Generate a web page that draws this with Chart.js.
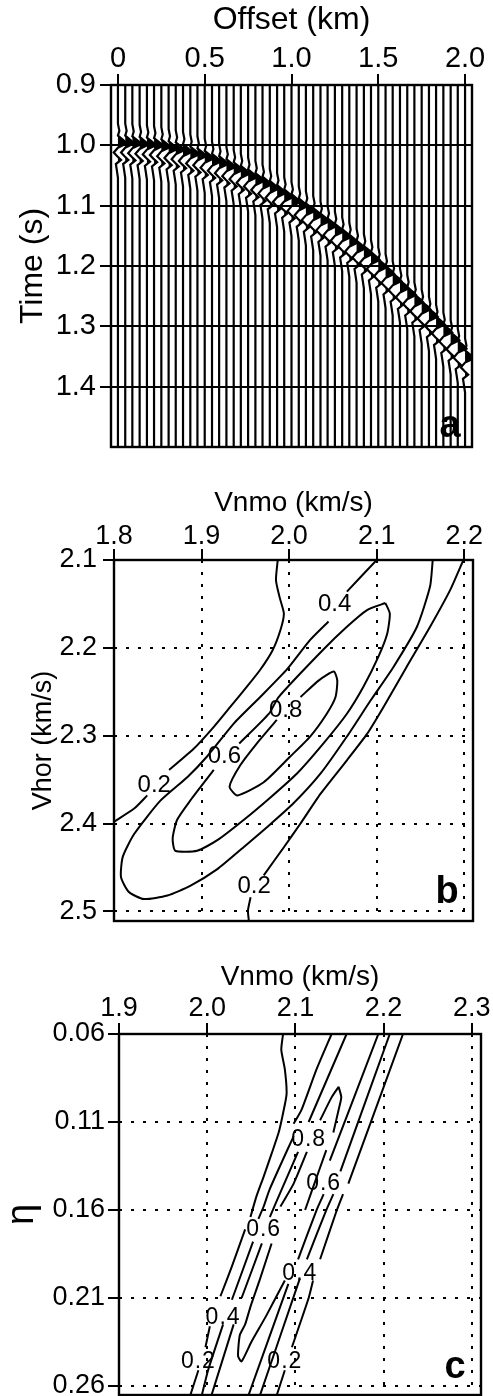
<!DOCTYPE html>
<html>
<head>
<meta charset="utf-8">
<title>Offset gather and semblance panels</title>
<script src="https://cdn.jsdelivr.net/npm/chart.js@4/dist/chart.umd.js"></script>
<style>
  html, body { margin: 0; padding: 0; background: #fff; }
  body { position: relative; width: 493px; height: 1396px; overflow: hidden; }
  canvas { position: absolute; left: 0; }
  #panelA { top: 0; }
  #panelB { top: 480px; }
  #panelC { top: 960px; }
</style>
</head>
<body>
<canvas id="panelA" width="493" height="470"></canvas>
<canvas id="panelB" width="493" height="460"></canvas>
<canvas id="panelC" width="493" height="436"></canvas>

<script>
// panel a: tick values and labels
const offsetTicks = [0, 0.5, 1.0, 1.5, 2.0];
const offsetTickLabels = ['0', '0.5', '1.0', '1.5', '2.0'];
const timeTicks = [0.9, 1.0, 1.1, 1.2, 1.3, 1.4];
const timeTickLabels = ['0.9', '1.0', '1.1', '1.2', '1.3', '1.4'];

// panel a: one wiggle trace per offset, with the event arrival
const traceOffsets = [
    0, 0.042, 0.083, 0.125, 0.167, 0.208, 0.25, 0.292, 0.333, 0.375, 0.417, 0.458,
    0.5, 0.542, 0.583, 0.625, 0.667, 0.708, 0.75, 0.792, 0.833, 0.875, 0.917, 0.958,
    1.0, 1.042, 1.083, 1.125, 1.167, 1.208, 1.25, 1.292, 1.333, 1.375, 1.417, 1.458,
    1.5, 1.542, 1.583, 1.625, 1.667, 1.708, 1.75, 1.792, 1.833, 1.875, 1.917, 1.958, 2.0
];
const traceArrivals = [
    1.000, 1.000, 1.001, 1.002, 1.003, 1.004, 1.006, 1.009, 1.011, 1.014, 1.018, 1.021,
    1.025, 1.030, 1.034, 1.039, 1.044, 1.050, 1.056, 1.062, 1.068, 1.075, 1.082, 1.089,
    1.097, 1.104, 1.112, 1.120, 1.129, 1.137, 1.146, 1.155, 1.164, 1.174, 1.183, 1.193,
    1.205, 1.216, 1.228, 1.240, 1.251, 1.263, 1.275, 1.287, 1.300, 1.313, 1.326, 1.340, 1.356
];
// wavelet as seen on a single trace: time from arrival (s), deflection (km)
const waveTimes = [-0.036, -0.024, -0.016, -0.008, -0.003, 0.004, 0.012, 0.018, 0.024, 0.031, 0.042, 0.054];
const waveAmps = [0, 0.008, 0, 0.034, 0.050, 0, -0.024, -0.004, 0.018, -0.012, -0.006, 0];
// the filled (black) parts of the wavelet
const lobeTimes = [-0.016, -0.008, -0.003, 0.004];
const lobeAmps = [0, 0.034, 0.050, 0];
const lowerLobeTimes = [0.018, 0.024, 0.029];
const lowerLobeAmps = [0, 0.018, 0];

// panel b: ticks
const vnmoTicksB = [1.8, 1.9, 2.0, 2.1, 2.2];
const vhorTicks = [2.1, 2.2, 2.3, 2.4, 2.5];

// panel b: contours as [Vnmo, Vhor], null = gap left for a label
const contourB02Left = [[1.987,2.1],[1.985,2.123],[1.989,2.142],[1.994,2.161],[1.990,2.180],[1.981,2.203],[1.967,2.225],[1.952,2.244],[1.933,2.267],[1.914,2.290],[1.891,2.315],[1.863,2.339],null,[1.838,2.368],[1.823,2.383],[1.800,2.398]];
const contourB02Right = [[2.199,2.1],[2.184,2.134],[2.161,2.176],[2.134,2.222],[2.108,2.267],[2.089,2.298],[2.066,2.328],[2.036,2.366],[2.013,2.400],[1.994,2.427],[1.971,2.459],null,[1.956,2.484],[1.953,2.499],[1.954,2.511]];
const contourB04 = [[2.100,2.1],[2.066,2.136],null,[2.045,2.170],[2.024,2.191],[1.998,2.224],[1.967,2.256],[1.937,2.286],[1.906,2.324],[1.884,2.347],[1.853,2.374],[1.823,2.412],[1.810,2.438],[1.808,2.461],[1.817,2.478],[1.834,2.486],[1.861,2.482],[1.887,2.471],[1.918,2.452],[1.948,2.427],[1.975,2.404],[2.005,2.377],[2.036,2.343],[2.066,2.301],[2.093,2.260],[2.119,2.222],[2.146,2.176],[2.161,2.130],[2.164,2.1]];
const contourB06 = [[2.110,2.149],[2.115,2.161],[2.112,2.184],[2.102,2.210],[2.085,2.244],[2.066,2.275],[2.039,2.309],[2.009,2.343],[1.979,2.370],[1.948,2.396],[1.918,2.419],[1.895,2.431],[1.870,2.431],[1.867,2.417],[1.872,2.396],[1.887,2.374],[1.914,2.339],null,[1.943,2.309],[1.977,2.275],[1.988,2.256],[2.038,2.203],[2.066,2.176],[2.089,2.157],[2.110,2.149]];
const contourB08 = [[1.986,2.282],[1.963,2.309],[1.944,2.334],[1.932,2.358],[1.941,2.368],[1.971,2.353],[2.001,2.324],[2.024,2.301],[2.043,2.275],[2.053,2.256],[2.055,2.237],[2.051,2.227],[2.034,2.237],[2.013,2.256]];
const contoursB = [contourB02Left, contourB02Right, contourB04, contourB06, contourB08];
const labelTextB = ['0.4', '0.2', '0.6', '0.8', '0.2'];
const labelVnmoB = [2.052, 1.846, 1.926, 1.996, 1.960];
const labelVhorB = [2.151, 2.357, 2.324, 2.271, 2.472];

// panel c: ticks
const vnmoTicksC = [1.9, 2.0, 2.1, 2.2, 2.3];
const etaTicks = [0.06, 0.11, 0.16, 0.21, 0.26];

// panel c: contours as [Vnmo, eta]
const contourC02Left = [[2.086,0.06],[2.084,0.069],[2.088,0.080],[2.090,0.094],[2.086,0.105],[2.081,0.116],[2.073,0.128],[2.064,0.141],[2.056,0.152],[2.049,0.164],null,[2.043,0.171],[2.028,0.192],[2.015,0.209],null,[2.003,0.226],[1.998,0.238],null,[1.990,0.251],[1.981,0.265]];
const contourC04Left = [[2.141,0.06],[2.124,0.080],[2.107,0.103],[2.098,0.111],null,[2.098,0.118],[2.071,0.148],[2.064,0.158],[2.058,0.165],null,[2.052,0.178],[2.028,0.211],null,[2.018,0.225],[2.001,0.251],[1.994,0.265]];
const contourC06Left = [[2.158,0.06],[2.115,0.110],null,[2.103,0.127],[2.083,0.150],[2.071,0.164],null,[2.062,0.179],[2.039,0.210],null,[2.030,0.225],[2.005,0.265]];
const contourC08 = [[2.149,0.090],[2.141,0.096],[2.128,0.109],null,[2.113,0.127],[2.098,0.145],[2.083,0.158],null,[2.073,0.179],[2.060,0.199],[2.049,0.215],[2.043,0.225],[2.037,0.231],[2.035,0.243],[2.039,0.246],[2.050,0.235],[2.067,0.220],[2.088,0.200],null,[2.111,0.160],[2.118,0.150],[2.135,0.126],null,[2.143,0.116],[2.149,0.103],[2.152,0.096],[2.149,0.090]];
const contourC06Right = [[2.194,0.06],[2.139,0.132],null,[2.132,0.151],[2.124,0.160],[2.103,0.188],null,[2.092,0.202],[2.047,0.265]];
const contourC04Right = [[2.207,0.06],[2.151,0.138],null,[2.143,0.151],[2.135,0.160],[2.113,0.188],null,[2.105,0.199],[2.060,0.265]];
const contourC02Right = [[2.222,0.06],[2.160,0.145],null,[2.154,0.151],[2.147,0.160],[2.128,0.188],null,[2.120,0.200],[2.115,0.210],[2.096,0.238],null,[2.088,0.251],[2.079,0.265]];
const contoursC = [contourC02Left, contourC04Left, contourC06Left, contourC08, contourC06Right, contourC04Right, contourC02Right];
const labelTextC = ['0.8', '0.6', '0.6', '0.4', '0.4', '0.2', '0.2'];
const labelVnmoC = [2.115, 2.132, 2.064, 2.105, 2.018, 1.990, 2.088];
const labelEtaC = [0.120, 0.145, 0.171, 0.196, 0.221, 0.246, 0.246];

const FONT = '"Liberation Sans", Arial, sans-serif';
Chart.defaults.font.family = FONT;
Chart.defaults.color = '#000';

// ticks come from the lists above, the axis size is forced so the plot boxes land where they should
function eixo(opts) {
    return {
        type: 'linear',
        position: opts.position,
        reverse: !!opts.reverse,
        min: opts.min,
        max: opts.max,
        title: {
            display: true,
            text: opts.title,
            color: '#000',
            font: { size: opts.titleSize, family: opts.titleFamily || FONT },
            padding: opts.titlePadding
        },
        ticks: {
            autoSkip: false,
            maxRotation: 0,
            minRotation: 0,
            color: '#000',
            padding: opts.tickPadding,
            font: { size: opts.tickSize },
            callback: (value, i) => opts.labels ? opts.labels[i] : opts.ticks[i].toFixed(opts.decimals)
        },
        grid: {
            display: true,
            color: '#000',
            lineWidth: 2,
            tickLength: 11,
            tickColor: '#000',
            tickWidth: 2,
            drawOnChartArea: opts.gridLines
        },
        border: { display: false, dash: opts.dash || [] },
        afterBuildTicks: scale => { scale.ticks = opts.ticks.map(v => ({ value: v })); },
        afterFit: scale => {
            if (opts.position === 'top') scale.height = opts.size;
            else scale.width = opts.size;
            scale.paddingLeft = scale.paddingRight = scale.paddingTop = scale.paddingBottom = 0;
        }
    };
}

// plot frame, contour labels and the panel letter
function decoracao(letter, letterRight, letterBottom, texts, xs, ys, labelSize, spacing) {
    return {
        id: 'decoracao',
        afterDatasetsDraw(chart) {
            const ctx = chart.ctx;
            const area = chart.chartArea;
            ctx.save();
            ctx.strokeStyle = '#000';
            ctx.lineWidth = 2.4;
            ctx.strokeRect(area.left, area.top, area.right - area.left, area.bottom - area.top);
            ctx.fillStyle = '#000';
            ctx.textAlign = 'center';
            ctx.textBaseline = 'middle';
            ctx.font = `${labelSize}px ${FONT}`;
            ctx.letterSpacing = spacing;
            texts.forEach((t, i) => {
                ctx.fillText(t, chart.scales.x.getPixelForValue(xs[i]), chart.scales.y.getPixelForValue(ys[i]));
            });
            ctx.letterSpacing = '0px';
            ctx.font = `bold 38px ${FONT}`;
            ctx.textBaseline = 'alphabetic';
            ctx.fillText(letter, area.right - letterRight, area.bottom - letterBottom);
            ctx.restore();
        }
    };
}

function linhaContorno(pontos) {
    return {
        data: pontos.map(p => p ? { x: p[0], y: p[1] } : { x: null, y: null }),
        showLine: true,
        borderColor: '#000',
        borderWidth: 2,
        pointRadius: 0,
        tension: 0.2,
        spanGaps: false,
        fill: false
    };
}

function lobo(offset, t0, times, amps) {
    return {
        data: times.map((dt, k) => ({ x: offset + amps[k], y: t0 + dt })),
        showLine: true,
        borderWidth: 0,
        borderColor: '#000',
        backgroundColor: '#000',
        pointRadius: 0,
        fill: 'shape'
    };
}

function datasetsSismograma() {
    const sets = [];
    traceOffsets.forEach((offset, i) => {
        const t0 = traceArrivals[i];
        // filled lobes first, then the wiggle on top
        sets.push(lobo(offset, t0, lobeTimes, lobeAmps));
        sets.push(lobo(offset, t0, lowerLobeTimes, lowerLobeAmps));
        const wiggle = [{ x: offset, y: 0.9 }];
        waveTimes.forEach((dt, k) => wiggle.push({ x: offset + waveAmps[k], y: t0 + dt }));
        wiggle.push({ x: offset, y: 1.5 });
        sets.push({
            data: wiggle,
            showLine: true,
            borderColor: '#000',
            borderWidth: 2.2,
            pointRadius: 0,
            fill: false
        });
    });
    return sets;
}

function opcoes(padding, x, y) {
    return {
        responsive: false,
        animation: false,
        events: [],
        layout: { padding: padding },
        plugins: { legend: { display: false }, tooltip: { enabled: false }, title: { display: false } },
        scales: { x: x, y: y }
    };
}

new Chart(document.getElementById('panelA'), {
    type: 'scatter',
    data: { datasets: datasetsSismograma() },
    options: opcoes(
        { right: 21, bottom: 23 },
        eixo({ position: 'top', min: -0.04, max: 2.04, title: 'Offset (km)', titleSize: 32, titlePadding: { top: 1, bottom: 0 }, ticks: offsetTicks, labels: offsetTickLabels, tickSize: 29, tickPadding: -2, size: 85, gridLines: false }),
        eixo({ position: 'left', reverse: true, min: 0.9, max: 1.5, title: 'Time (s)', titleSize: 32, titlePadding: { top: 14, bottom: 0 }, ticks: timeTicks, labels: timeTickLabels, tickSize: 29, tickPadding: 4, size: 111, gridLines: true })
    ),
    plugins: [decoracao('a', 22, 10, [], [], [], 24, '0px')]
});

new Chart(document.getElementById('panelB'), {
    type: 'scatter',
    data: { datasets: contoursB.map(linhaContorno) },
    options: opcoes(
        { right: 20, bottom: 19 },
        eixo({ position: 'top', min: 1.8, max: 2.21, title: 'Vnmo (km/s)', titleSize: 28, titlePadding: { top: 6, bottom: 0 }, ticks: vnmoTicksB, decimals: 1, tickSize: 27, tickPadding: -4, size: 80, gridLines: true, dash: [3, 9] }),
        eixo({ position: 'left', reverse: true, min: 2.1, max: 2.511, title: 'Vhor (km/s)', titleSize: 27, titlePadding: { top: 27, bottom: 0 }, ticks: vhorTicks, decimals: 1, tickSize: 27, tickPadding: 6, size: 114, gridLines: true, dash: [3, 9] })
    ),
    plugins: [decoracao('b', 26, 18, labelTextB, labelVnmoB, labelVhorB, 24, '0px')]
});

new Chart(document.getElementById('panelC'), {
    type: 'scatter',
    data: { datasets: contoursC.map(linhaContorno) },
    options: opcoes(
        { right: 12, bottom: 1 },
        eixo({ position: 'top', min: 1.9, max: 2.3104, title: 'Vnmo (km/s)', titleSize: 28, titlePadding: { top: 0, bottom: 0 }, ticks: vnmoTicksC, decimals: 1, tickSize: 27, tickPadding: -2, size: 74, gridLines: true, dash: [3, 9] }),
        eixo({ position: 'left', reverse: true, min: 0.06, max: 0.2651, title: 'η', titleSize: 38, titlePadding: { top: 0, bottom: 0 }, ticks: etaTicks, decimals: 2, tickSize: 27, tickPadding: 3, size: 119, gridLines: true, dash: [3, 9] })
    ),
    plugins: [decoracao('c', 26, 17, labelTextC, labelVnmoC, labelEtaC, 23, '1px')]
});
</script>
</body>
</html>
